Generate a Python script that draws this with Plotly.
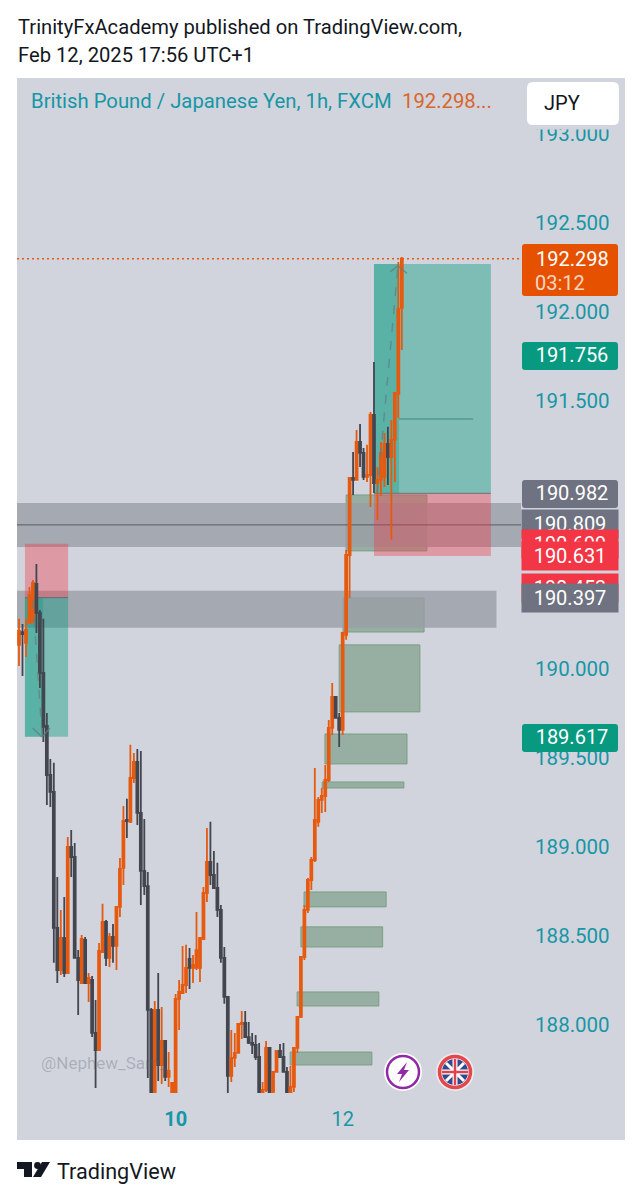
import plotly.graph_objects as go

OPEN = [190.132,190.204,190.143,190.255,190.261,190.474,190.311,189.974,189.677,189.402,
189.307,188.544,188.308,188.488,188.291,188.998,188.942,188.376,188.235,188.477,
188.235,188.252,187.955,187.859,188.409,188.578,188.376,188.493,188.443,188.662,
188.881,189.150,189.139,189.385,189.475,189.189,188.864,188.779,188.084,187.579,
188.084,187.775,187.910,187.708,187.579,187.579,188.146,188.179,188.224,188.370,
188.320,188.320,188.320,188.482,188.740,188.914,188.841,188.768,188.645,188.376,
188.157,187.714,187.815,187.843,188.005,188.011,187.932,187.899,187.888,187.820,
187.579,187.635,187.871,187.624,187.736,187.854,187.820,187.736,187.618,187.652,
187.871,188.045,188.381,188.645,188.813,188.925,189.139,189.262,189.284,189.374,
189.666,189.840,189.722,189.655,190.188,190.636,191.068,191.057,191.270,191.209,
191.074,191.085,191.422,191.040,191.057,191.074,191.259,191.186,191.282,191.540,
192.022]
HIGH = [190.278,190.249,190.278,190.457,190.496,190.586,190.328,190.278,189.750,189.492,
189.470,188.830,188.645,188.718,189.054,189.094,189.021,188.420,188.505,188.493,
188.291,188.275,188.140,188.460,188.679,188.589,188.516,188.566,188.662,188.937,
189.228,189.268,189.571,189.526,189.548,189.537,189.155,188.858,188.095,188.134,
188.291,188.101,187.916,187.848,187.680,188.174,188.252,188.443,188.449,188.432,
188.392,188.634,188.488,188.774,189.105,189.139,188.976,188.909,188.673,188.437,
188.162,187.972,187.955,188.005,188.078,188.078,188.017,187.955,187.944,187.899,
187.680,187.910,187.876,187.736,187.859,187.893,187.899,187.764,187.770,187.871,
188.045,188.381,188.673,188.824,188.942,189.441,189.279,189.329,189.458,189.711,
189.918,189.845,189.750,190.199,190.664,191.074,191.214,191.338,191.371,191.237,
191.254,191.439,191.719,191.130,191.270,191.321,191.355,191.394,191.545,192.280,
192.308]
LOW = [190.013,189.958,190.064,190.255,190.255,190.199,189.890,189.587,189.234,189.223,
188.348,188.235,188.280,188.269,188.291,188.830,188.376,188.056,188.235,188.235,
188.129,187.932,187.646,187.859,188.409,188.331,188.325,188.348,188.308,188.606,
188.785,189.049,189.133,189.357,189.122,188.673,188.729,187.702,187.579,187.579,
187.686,187.669,187.686,187.652,187.579,187.579,187.972,188.179,188.179,188.202,
188.235,188.308,188.241,188.482,188.690,188.785,188.768,188.606,188.348,188.118,
187.579,187.680,187.764,187.843,187.921,187.927,187.893,187.837,187.803,187.579,
187.579,187.624,187.579,187.579,187.736,187.820,187.736,187.579,187.579,187.624,
187.843,188.039,188.364,188.628,188.757,188.914,189.111,189.189,189.195,189.363,
189.627,189.722,189.559,189.627,190.160,190.395,190.973,191.057,191.130,191.057,
191.046,190.906,190.984,190.833,190.967,191.018,191.029,190.721,191.046,191.405,
191.786]
CLOSE = [190.210,190.193,190.216,190.412,190.479,190.311,189.974,189.672,189.402,189.307,
188.544,188.308,188.488,188.291,188.998,188.942,188.376,188.252,188.482,188.235,
188.263,187.955,187.859,188.415,188.578,188.376,188.493,188.443,188.662,188.875,
189.144,189.144,189.385,189.475,189.189,188.864,188.779,188.084,187.579,188.084,
187.775,187.910,187.708,187.742,187.674,188.146,188.185,188.224,188.320,188.320,
188.336,188.420,188.488,188.740,188.914,188.841,188.768,188.645,188.376,188.157,
187.714,187.815,187.843,188.005,188.011,187.932,187.899,187.888,187.820,187.579,
187.635,187.871,187.618,187.736,187.854,187.820,187.736,187.579,187.652,187.871,
188.045,188.381,188.645,188.813,188.925,189.150,189.262,189.284,189.374,189.666,
189.840,189.722,189.655,190.199,190.636,191.068,191.057,191.270,191.209,191.074,
191.085,191.422,191.040,191.057,191.209,191.259,191.186,191.282,191.545,192.017,
192.298]
BAR_INDEX = list(range(len(OPEN)))

PRICE_TICKS = [188.0, 188.5, 189.0, 189.5, 190.0, 191.5, 192.0, 192.5, 193.0]
TIME_TICK_BARS = [45, 93]
TIME_TICK_TEXT = ["<b>10</b>", "12"]

LAST_PRICE = 192.298
# x0, x1 in bars; y0, y1 in price
SAGE_ZONES = [
    (94.0, 117.2, 190.973, 190.659), (93.1, 116.4, 190.395, 190.204),
    (92.0, 115.2, 190.132, 189.756), (87.9, 111.5, 189.632, 189.464),
    (87.1, 110.6, 189.363, 189.329), (81.9, 105.5, 188.746, 188.662),
    (81.0, 104.5, 188.550, 188.437), (79.9, 103.4, 188.185, 188.106),
    (77.9, 101.4, 187.848, 187.775),
]
SHORT_POS = dict(x0=1.7, x1=14.1, xnow=6.9, entry=190.397, stop=190.699, target=189.617)
LONG_POS = dict(x0=102.0, x1=135.6, xnow=109.2, entry=190.982, stop=190.631, target=192.269)
BANDS = [(-0.58, 144.25, 190.928, 190.681), (-0.58, 137.2, 190.435, 190.228)]
MID_LINE = 190.805

W, H = 642, 1200
L, R, T, B, PANE_B = 17, 521, 78, 1140, 1093
def px(x): return (x - L) / (R - L)
def py(y): return (B - y) / (B - T)

BG = "#d1d4dc"; TEAL = "#1796a6"; ORANGE = "#e65a10"; DARK = "#43464f"
GREY_LBL = "#6f7280"; GREEN_LBL = "#089981"; RED_LBL = "#f23645"
FONT = "Roboto"

shapes = []
def rect_px(x0, y0, x1, y1, fill, layer="below"):
    shapes.append(dict(type="rect", xref="paper", yref="paper", x0=px(x0), x1=px(x1), y0=py(y1), y1=py(y0),
                       fillcolor=fill, line_width=0, layer=layer))
def round_px(x0, y0, x1, y1, r, fill, layer="above"):
    def P(x, y): return f"{px(x):.5f},{py(y):.5f}"
    path = (f"M{P(x0+r,y0)} L{P(x1-r,y0)} Q{P(x1,y0)} {P(x1,y0+r)} L{P(x1,y1-r)} Q{P(x1,y1)} {P(x1-r,y1)} "
            f"L{P(x0+r,y1)} Q{P(x0,y1)} {P(x0,y1-r)} L{P(x0,y0+r)} Q{P(x0,y0)} {P(x0+r,y0)} Z")
    shapes.append(dict(type="path", xref="paper", yref="paper", path=path, fillcolor=fill, line_width=0, layer=layer))
def circle_px(cx, cy, r, fill, line=None, lw=0):
    shapes.append(dict(type="circle", xref="paper", yref="paper", x0=px(cx-r), x1=px(cx+r), y0=py(cy+r), y1=py(cy-r),
                       fillcolor=fill, line=dict(color=line or fill, width=lw), layer="above"))
def poly_px(pts, fill):
    d = "M" + " L".join(f"{px(x):.5f},{py(y):.5f}" for x, y in pts) + " Z"
    shapes.append(dict(type="path", xref="paper", yref="paper", path=d, fillcolor=fill, line_width=0, layer="above"))
def line_px(x0, y0, x1, y1, c, w):
    shapes.append(dict(type="line", xref="paper", yref="paper", x0=px(x0), x1=px(x1), y0=py(y0), y1=py(y1),
                       line=dict(color=c, width=w), layer="above"))
def rect_data(x0, x1, y0, y1, fill, line=None, layer="below"):
    shapes.append(dict(type="rect", xref="x", yref="y", x0=x0, x1=x1, y0=y0, y1=y1, fillcolor=fill,
                       line=dict(color=line or "rgba(0,0,0,0)", width=1 if line else 0), layer=layer))
def seg(x0, y0, x1, y1, c, w, dash="solid", layer="below"):
    shapes.append(dict(type="line", xref="x", yref="y", x0=x0, x1=x1, y0=y0, y1=y1,
                       line=dict(color=c, width=w, dash=dash), layer=layer))

# panel backgrounds
rect_px(L, T, 625, B, BG)

# sage zones
for x0, x1, y0, y1 in SAGE_ZONES:
    rect_data(x0, x1, y0, y1, "rgba(120,155,130,0.65)", "rgba(120,155,130,0.9)")

# grey bands
for x0, x1, y0, y1 in BANDS:
    rect_data(x0, x1, y0, y1, "rgba(154,157,166,0.8)")
seg(-0.58, MID_LINE, 144.25, MID_LINE, "rgba(75,78,85,0.85)", 1)

# trade positions
for p in (SHORT_POS, LONG_POS):
    rect_data(p["x0"], p["x1"], p["entry"], p["target"], "rgba(8,153,129,0.41)")
    rect_data(p["x0"], p["xnow"], p["entry"], p["target"], "rgba(8,153,129,0.30)")
    rect_data(p["x0"], p["x1"], p["entry"], p["stop"], "rgba(242,54,69,0.37)")
    seg(p["x0"], p["entry"], p["x1"], p["entry"], "rgba(90,93,100,0.75)", 1)
seg(109.2, 191.399, 130.5, 191.399, "rgba(45,130,115,0.85)", 1)

# last-price line
seg(-0.58, LAST_PRICE, 144.25, LAST_PRICE, ORANGE, 1.6, "2px,3px", "above")

# dashed trade arrows
ARW = "rgba(100,125,130,0.75)"
seg(4.0, 190.384, 6.6, 189.627, ARW, 1.4, "dash", "above")
seg(3.9, 189.666, 6.6, 189.615, ARW, 1.4, "solid", "above")
seg(6.6, 189.615, 8.9, 189.666, ARW, 1.4, "solid", "above")
seg(102.9, 190.982, 108.9, 192.258, ARW, 1.4, "dash", "above")
seg(106.6, 192.224, 108.9, 192.258, ARW, 1.4, "solid", "above")
seg(108.9, 192.258, 111.5, 192.215, ARW, 1.4, "solid", "above")

# legend strip that cuts the top tick, then the JPY box
rect_px(527, 118, 625, 129.5, BG, "above")
round_px(527, 82, 619, 125, 6, "#ffffff")

# icons
circle_px(403, 1072, 19, "#ffffff")
circle_px(403, 1072, 16, "#ffffff", "#8e2aa5", 2.5)
poly_px([(407, 1062), (397, 1074), (402, 1074), (399, 1082), (409, 1070), (404, 1070)], "#8e2aa5")
circle_px(455, 1072, 19, "#f0e9ea")
circle_px(455, 1072, 13, "#2f4a8f")
for a, b in (((446, 1063), (464, 1081)), ((464, 1063), (446, 1081))):
    line_px(a[0], a[1], b[0], b[1], "#ffffff", 3)
line_px(455, 1059, 455, 1085, "#ffffff", 5)
line_px(442, 1072, 468, 1072, "#ffffff", 5)
line_px(455, 1059, 455, 1085, "#e0414d", 2.5)
line_px(442, 1072, 468, 1072, "#e0414d", 2.5)
circle_px(455, 1072, 15.5, "rgba(0,0,0,0)", "#e2474f", 3.5)

# TradingView logo
poly_px([(17, 1162), (32, 1162), (32, 1177), (24, 1177), (24, 1169), (17, 1169)], "#131722")
circle_px(37.5, 1165.5, 3.4, "#131722")
poly_px([(42, 1162), (50, 1162), (41, 1177), (33, 1177)], "#131722")

# Price label boxes that do not overlap
round_px(522, 244, 618, 296, 3, "#e65100")
round_px(522, 342, 618, 370, 3, GREEN_LBL)
round_px(522, 480, 618, 508, 3, GREY_LBL)
round_px(522, 724, 618, 752, 3, GREEN_LBL)

fig = go.Figure(go.Candlestick(
    x=BAR_INDEX, open=OPEN, high=HIGH, low=LOW, close=CLOSE,
    increasing=dict(line=dict(color=ORANGE, width=1.8), fillcolor=ORANGE),
    decreasing=dict(line=dict(color=DARK, width=1.8), fillcolor=DARK),
    whiskerwidth=0, hoverinfo="skip", showlegend=False))

ann = []
def text_px(x, y, s, size, color, anchor="left", opacity=None):
    d = dict(xref="paper", yref="paper", x=px(x), y=py(y), text=s, showarrow=False, xanchor=anchor, yanchor="middle",
             font=dict(family=FONT, size=size, color=color), borderpad=0)
    if opacity is not None:
        d["opacity"] = opacity
    ann.append(d)

def price_label(price, text, bg=None):
    d = dict(xref="paper", yref="y", x=px(570 if bg else 572), y=price, text=text, showarrow=False, xanchor="center", yanchor="middle",
             font=dict(family=FONT, size=20, color="#ffffff"), width=96, height=28, align="center", borderpad=0)
    if bg:
        d["bgcolor"] = bg
    ann.append(d)

text_px(17, 27, "TrinityFxAcademy published on TradingView.com,", 20.2, "#131722")
text_px(17, 55, "Feb 12, 2025 17:56 UTC+1", 20.2, "#131722")
text_px(30, 101, "British Pound / Japanese Yen, 1h, FXCM", 20.3, TEAL)
text_px(401, 101, "192.298...", 20.3, "#d9652b")
text_px(543, 103, "JPY", 20, "#131722")
text_px(40, 1063, "@Nephew_Sam_", 17, "rgba(90,93,105,0.32)")
text_px(56, 1171, "TradingView", 21.6, "#131722")

price_label(190.982, "190.982")
price_label(191.756, "191.756")
price_label(189.617, "189.617")
text_px(572, 259, "192.298", 20, "#ffffff", "center")
text_px(560, 283, "03:12", 20, "#f6d7c3", "center")
price_label(190.809, "190.809", GREY_LBL)
price_label(190.699, "190.699", RED_LBL)
price_label(190.631, "190.631", RED_LBL)
price_label(190.453, "190.453", RED_LBL)
price_label(190.397, "190.397", GREY_LBL)

fig.update_layout(
    width=W, height=H, autosize=False,
    margin=dict(l=L, r=W - R, t=T, b=H - B, pad=0),
    paper_bgcolor="#ffffff", plot_bgcolor=BG,
    boxgap=0.2,
    shapes=shapes, annotations=ann,
    xaxis=dict(domain=[0, 1], range=[-0.58, 144.25], rangeslider=dict(visible=False), showgrid=False, zeroline=False,
               showline=False, tickmode="array", tickvals=TIME_TICK_BARS, ticktext=TIME_TICK_TEXT,
               ticks="outside", ticklen=8, tickcolor="rgba(0,0,0,0)", tickfont=dict(family=FONT, size=20, color=TEAL)),
    yaxis=dict(domain=[py(PANE_B), 1], range=[187.618, 193.312], side="right", showgrid=False, zeroline=False,
               showline=False, tickmode="array", tickvals=PRICE_TICKS, ticktext=[f"{v:.3f}" for v in PRICE_TICKS],
               ticks="outside", ticklen=9, tickcolor="rgba(0,0,0,0)", tickfont=dict(family=FONT, size=20.5, color=TEAL)),
)
fig.write_html("out.html", config=dict(displayModeBar=False),
               post_script="document.body.style.margin='0';")
